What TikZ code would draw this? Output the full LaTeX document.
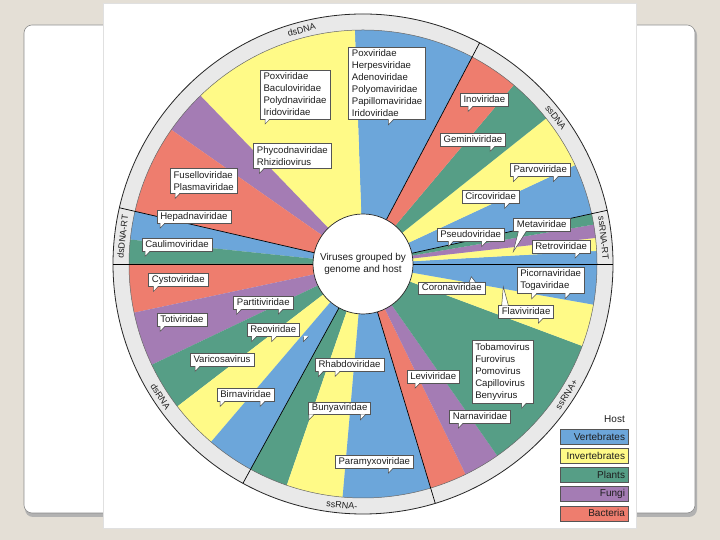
\documentclass[tikz,border=0pt]{standalone}
\usepackage{fontspec}
\setmainfont{Liberation Sans}
\usetikzlibrary{calc}
\definecolor{cblue}{RGB}{108,166,218}
\definecolor{cyel}{RGB}{255,250,135}
\definecolor{cgreen}{RGB}{86,158,134}
\definecolor{cpurp}{RGB}{164,124,180}
\definecolor{cred}{RGB}{238,125,110}
\definecolor{ringgray}{RGB}{233,233,233}
\definecolor{beige}{RGB}{228,223,214}
\definecolor{bxline}{RGB}{85,85,85}
\definecolor{txt}{RGB}{30,30,30}
\newcommand\fbx{\fontsize{9.6}{12}\selectfont}
\newcommand\tailg[7]{%
  \fill[white] ($(#1.#2)+(#3+0.3,#7)$) -- ($(#1.#2)+(#5,#6)$) -- ($(#1.#2)+(#4-0.3,#7)$) -- cycle;
  \draw[bxline, line width=0.5pt] ($(#1.#2)+(#3,0)$) -- ($(#1.#2)+(#5,#6)$) -- ($(#1.#2)+(#4,0)$);}
\newcommand\taild[2]{\tailg{#1}{south west}{#2}{#2+5}{#2}{-5}{0.6}}
\tikzset{
  bx/.style={draw=bxline, fill=white, line width=0.5pt, inner xsep=3.3pt, inner ysep=2.8pt,
    align=left, font=\fbx, text=txt, anchor=north west},
  bx1/.style={bx, inner ysep=1.8pt, text height=7.2pt, text depth=2pt},
  ringlab/.style={font=\fontsize{9}{10}\selectfont, text=txt, inner sep=0pt},
  lg/.style={draw=bxline, line width=0.6pt, minimum height=15pt, text width=61pt, align=right,
    inner xsep=3.3pt, inner ysep=0pt, font=\fontsize{10}{11}\selectfont, text=txt}
}
\begin{document}
\begin{tikzpicture}[x=1pt,y=1pt]
\useasboundingbox (0,0) rectangle (720,540);
\fill[beige] (0,0) rectangle (720,540);
% slide
\fill[black!30, rounded corners=8pt] (25,23) rectangle (697,513);
\filldraw[fill=white, draw=black!45, line width=0.6pt, rounded corners=8pt] (24,27) rectangle (695,515);
% figure panel
\filldraw[fill=white, draw=black!12, line width=0.5pt] (103,12) rectangle (636,537);

\coordinate (C) at (363,276);
\fill[ringgray] (C) circle[radius=250];
\foreach \a/\b/\c in {0/3.2/cblue, 3.2/6.4/cyel, 6.4/9.7/cpurp, 9.7/12.4/cgreen,
  12.4/25/cblue, 25/38.5/cyel, 38.5/49.9/cgreen, 49.9/62.2/cred,
  62.2/92/cblue, 92/134/cyel, 134/145/cpurp, 145/167/cred,
  167/174/cblue, 174/180/cgreen,
  180/192/cred, 192/205.5/cpurp, 205.5/217.5/cgreen, 217.5/229.5/cyel, 229.5/241.3/cblue,
  241.3/251/cgreen, 251/265/cyel, 265/286.8/cblue,
  286.8/296/cred, 296/305/cpurp, 305/339.5/cgreen, 339.5/350/cyel, 350/360/cblue}
  {\fill[\c] (C) -- ($(C)+(\a:234)$) arc[start angle=\a, end angle=\b, radius=234] -- cycle;}
\draw[black!85, line width=0.8pt] (C) circle[radius=250];
\draw[black!60, line width=0.5pt] (C) circle[radius=234];
\foreach \a in {0,12.4,62.2,167,180,241.3,286.8}
  \draw[black, line width=0.7pt] ($(C)+(\a:50)$) -- ($(C)+(\a:250)$);
\node[circle, draw=black!85, fill=white, minimum size=100pt, inner sep=0pt, line width=0.7pt,
  align=center, font=\fontsize{10}{11.7}\selectfont, text=txt] (ctr) at (C) {Viruses grouped by\\genome and host};

% ring labels
\node[ringlab, rotate=14.7] (g1) at ($(C)+(104.7:242)$) {dsDNA};
\node[ringlab, rotate=-52.8] (g2) at ($(C)+(37.2:242)$) {ssDNA};
\node[ringlab, rotate=-84] (g3) at ($(C)+(6.2:242)$) {ssRNA-RT};
\node[ringlab, rotate=57.3] (g4) at ($(C)+(-32.7:242)$) {ssRNA+};
\node[ringlab, rotate=-5] (g5) at ($(C)+(265:242)$) {ssRNA-};
\node[ringlab, rotate=-56.8] (g6) at ($(C)+(213.2:242)$) {dsRNA};
\node[ringlab, rotate=83.5] (g7) at ($(C)+(173.5:242)$) {dsDNA-RT};

% callouts
\node[bx] (B1) at (348.3,493.3) {Poxviridae\\Herpesviridae\\Adenoviridae\\Polyomaviridae\\Papillomaviridae\\Iridoviridae};
\taild{B1}{40}
\node[bx] (B2) at (260,470) {Poxviridae\\Baculoviridae\\Polydnaviridae\\Iridoviridae};
\taild{B2}{5}
\node[bx] (B3) at (253.3,396.7) {Phycodnaviridae\\Rhizidiovirus};
\taild{B3}{6}
\node[bx] (B4) at (170,371.7) {Fuselloviridae\\Plasmaviridae};
\taild{B4}{5}
\node[bx1] (B5) at (460,446.7) {Inoviridae};
\taild{B5}{8}
\node[bx1] (B6) at (440,406.7) {Geminiviridae};
\taild{B6}{50}
\node[bx1] (B7) at (510,376.7) {Parvoviridae};
\taild{B7}{3.3}
\taild{B7}{43.3}
\node[bx1] (B8) at (461.7,350) {Circoviridae};
\taild{B8}{43}
\node[bx1] (B9) at (436.7,311.7) {Pseudoviridae};
\taild{B9}{11.6}
\taild{B9}{45}
\node[bx1] (B10) at (513.3,321.7) {Metaviridae};
\tailg{B10}{south west}{5}{13}{0}{-20}{0.6}
\node[bx1] (B11) at (531.7,300) {Retroviridae};
\taild{B11}{43.3}
\node[bx] (B12) at (516.7,273.3) {Picornaviridae\\Togaviridae};
\taild{B12}{15}
\taild{B12}{48.3}
\node[bx1] (B13) at (418.3,258.3) {Coronaviridae};
\tailg{B13}{north west}{51}{57}{53}{5}{-0.6}
\node[bx1] (B14) at (498.3,235) {Flaviviridae};
\tailg{B14}{north west}{3.4}{10}{5}{18.3}{-0.6}
\taild{B14}{40}
\node[bx] (B15) at (471.7,200) {Tobamovirus\\Furovirus\\Pomovirus\\Capillovirus\\Benyvirus};
\taild{B15}{50}
\node[bx1] (B16) at (406.7,170) {Leviviridae};
\taild{B16}{8.3}
\node[bx1] (B17) at (449.3,130) {Narnaviridae};
\taild{B17}{9}
\node[bx1] (B18) at (335,85) {Paramyxoviridae};
\taild{B18}{53.3}
\node[bx1] (B19) at (308.3,138.3) {Bunyaviridae};
\taild{B19}{0.5}
\taild{B19}{52}
\node[bx1] (B20) at (315,181.7) {Rhabdoviridae};
\taild{B20}{3.3}
\taild{B20}{20}
\node[bx1] (B21) at (156.7,330) {Hepadnaviridae};
\taild{B21}{3.3}
\node[bx1] (B22) at (141.7,301.7) {Caulimoviridae};
\taild{B22}{3.3}
\node[bx1] (B23) at (148.3,266.7) {Cystoviridae};
\taild{B23}{5}
\node[bx1] (B24) at (233.3,244) {Partitiviridae};
\taild{B24}{3.3}
\taild{B24}{45}
\node[bx1] (B25) at (156.7,226.7) {Totiviridae};
\taild{B25}{3.3}
\node[bx1] (B26) at (246.7,216.7) {Reoviridae};
\taild{B26}{5}
\taild{B26}{25}
\taild{B26}{56.7}
\node[bx1] (B27) at (190,186.7) {Varicosavirus};
\taild{B27}{5}
\node[bx1] (B28) at (216.7,151.7) {Birnaviridae};
\taild{B28}{3.3}
\taild{B28}{43.3}

% legend
\node[anchor=east, font=\fontsize{10}{11}\selectfont, text=txt, inner sep=0pt] (host) at (625,120.7) {Host};
\node[lg, fill=cblue] (L1) at (594.5,103.2) {Vertebrates};
\node[lg, fill=cyel] (L2) at (594.5,84.2) {Invertebrates};
\node[lg, fill=cgreen] (L3) at (594.5,64.8) {Plants};
\node[lg, fill=cpurp] (L4) at (594.5,45.8) {Fungi};
\node[lg, fill=cred] (L5) at (594.5,26.6) {Bacteria};
\end{tikzpicture}
\end{document}
